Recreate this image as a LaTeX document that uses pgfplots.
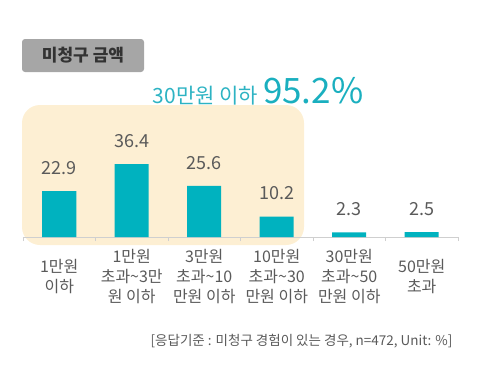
\documentclass[border=0pt]{standalone}
\usepackage{pgfplots}
\pgfplotsset{compat=1.18}
\usepackage{fontspec}
\setmainfont{Noto Sans CJK KR}
\definecolor{teal1}{HTML}{00B2BF}
\definecolor{tealtxt}{HTML}{2DB3C3}
\definecolor{tealbig}{HTML}{1AAFBF}
\definecolor{peach}{HTML}{FDEFD3}
\definecolor{lbl}{HTML}{5A5A5A}
\definecolor{axln}{HTML}{CFCFCF}
\definecolor{boxg}{HTML}{A6A6A6}
\begin{document}
\begin{tikzpicture}
\path[use as bounding box] (0pt,0pt) rectangle (490pt,384pt);
% highlight region
\fill[peach, rounded corners=18pt] (22pt,139pt) rectangle (304pt,279pt);
% title box
\fill[boxg, rounded corners=3pt] (22pt,312pt) rectangle (144pt,345pt);
\node[text=black!80, font=\fontsize{17}{20}\selectfont\bfseries] at (83pt,328.5pt) {미청구 금액};
% headline
\node[anchor=base, text=tealtxt, inner sep=0pt] at (258pt,281pt)
  {{\fontsize{21}{24}\selectfont 30만원 이하}\hspace{5pt}{\color{tealbig}\fontsize{35}{38}\selectfont 95.2\%}};
\begin{axis}[
  at={(23pt,147pt)}, anchor=south west,
  scale only axis, width=435pt, height=120pt,
  xmin=-0.5, xmax=5.5, ymin=0, ymax=60,
  axis y line=none, axis x line*=bottom,
  x axis line style={axln, line width=0.8pt, -},
  xtick={0,1,2,3,4,5},
  xticklabels={{1만원\\이하},{1만원\\초과\textasciitilde3만\\원 이하},{3만원\\초과\textasciitilde10\\만원 이하},{10만원\\초과\textasciitilde30\\만원 이하},{30만원\\초과\textasciitilde50\\만원 이하},{50만원\\초과}},
  major tick length=0pt,
  minor xtick={-0.5,0.5,1.5,2.5,3.5,4.5,5.5},
  minor tick length=4pt,
  minor tick style={axln, line width=0.8pt},
  tick align=inside,
  xticklabel style={align=center, text=lbl, font=\fontsize{16}{20}\selectfont, anchor=center, yshift=-40pt},
  ybar, bar width=34pt,
  nodes near coords,
  nodes near coords style={text=lbl, font=\fontsize{18}{20}\selectfont, yshift=13pt},
  /pgf/number format/.cd, fixed, fixed zerofill, precision=1, assume math mode=true,
  /pgfplots/.cd,
  clip=false,
]
\addplot[fill=teal1, draw=none] coordinates {(0,22.9) (1,36.4) (2,25.6) (3,10.2) (4,2.3) (5,2.5)};
\end{axis}
\node[anchor=east, text=lbl, font=\fontsize{13.5}{16}\selectfont] at (456pt,43pt) {[응답기준 : 미청구 경험이 있는 경우, n=472, Unit: \%]};
\end{tikzpicture}
\end{document}
